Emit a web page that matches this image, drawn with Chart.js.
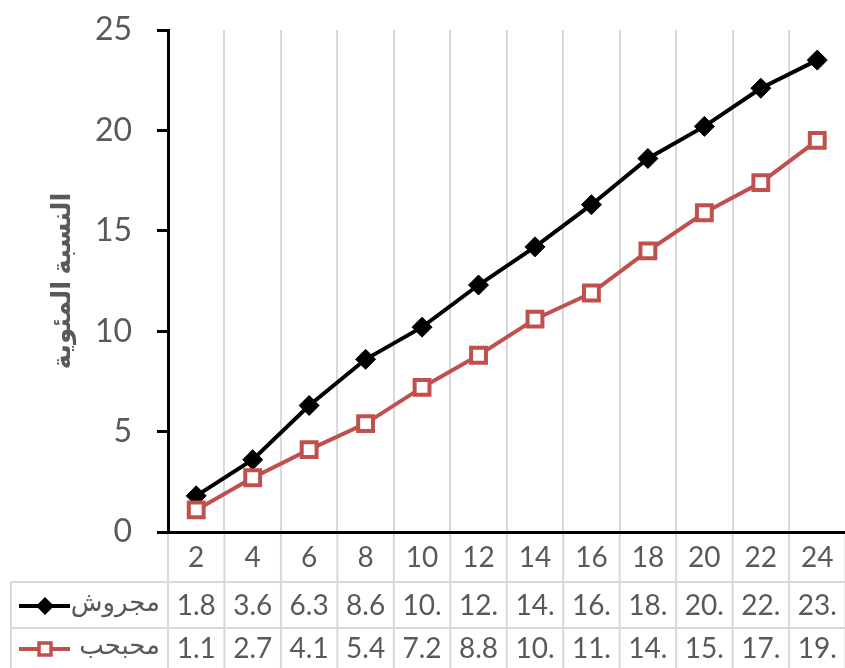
<!DOCTYPE html>
<html>
<head>
<meta charset="utf-8">
<script src="https://cdn.jsdelivr.net/npm/chart.js@4.4.1/dist/chart.umd.min.js"></script>
<style>
  body { margin: 0; overflow: hidden; background: #fff; }
  canvas { display: block; }
</style>
</head>
<body>
<canvas id="chart" width="860" height="668" style="width:860px;height:668px"></canvas>
<script>
// categories and the two series
var categories = ['2', '4', '6', '8', '10', '12', '14', '16', '18', '20', '22', '24'];
var crushed = [1.8, 3.6, 6.3, 8.6, 10.2, 12.3, 14.2, 16.3, 18.6, 20.2, 22.1, 23.5];
var granular = [1.1, 2.7, 4.1, 5.4, 7.2, 8.8, 10.6, 11.9, 14.0, 15.9, 17.4, 19.5];
var seriesNames = ['مجروش', 'محبحب'];
var yTicks = [0, 5, 10, 15, 20, 25];

var textGray = '#595959';
var gridGray = '#d9d9d9';
var red = '#C0504D';
var fontFam = "Lato, 'DejaVu Sans', sans-serif";

// draws the data table under the x axis (Excel style)
const tablePlugin = {
    id: 'dataTable',
    afterDraw(chart) {
        const ctx = chart.ctx;
        const x = chart.scales.x;
        const area = chart.chartArea;
        const colW = x.getPixelForValue(1) - x.getPixelForValue(0);
        const row1 = 582, row2 = 628, bottom = 668;
        ctx.save();
        ctx.strokeStyle = gridGray;
        ctx.lineWidth = 2;
        ctx.beginPath();
        for (let i = 0; i <= categories.length; i++) {
            const px = x.getPixelForValue(i) - colW / 2;
            ctx.moveTo(px, area.bottom + 2);
            ctx.lineTo(px, bottom);
        }
        ctx.moveTo(11, row1); ctx.lineTo(area.right, row1);
        ctx.moveTo(11, row2); ctx.lineTo(area.right, row2);
        ctx.moveTo(11, row1); ctx.lineTo(11, bottom);
        ctx.stroke();

        // values, truncated like the narrow Excel cells
        ctx.fillStyle = textGray;
        ctx.font = '28px ' + fontFam;
        ctx.textAlign = 'center';
        ctx.textBaseline = 'middle';
        const rows = [crushed, granular];
        const rowY = [606, 649];
        rows.forEach(function (vals, r) {
            vals.forEach(function (v, i) {
                ctx.fillText(v.toFixed(1).slice(0, 3), x.getPixelForValue(i), rowY[r]);
            });
        });

        // row labels with legend keys
        ctx.font = '26px ' + fontFam;
        ctx.textAlign = 'right';
        ctx.fillText(seriesNames[0], 160, rowY[0] - 3);
        ctx.fillText(seriesNames[1], 160, rowY[1] - 3);

        ctx.strokeStyle = '#000';
        ctx.lineWidth = 4;
        ctx.beginPath();
        ctx.moveTo(19, rowY[0]); ctx.lineTo(70, rowY[0]);
        ctx.stroke();
        ctx.fillStyle = '#000';
        ctx.beginPath();
        ctx.moveTo(45, rowY[0] - 9); ctx.lineTo(54, rowY[0]);
        ctx.lineTo(45, rowY[0] + 9); ctx.lineTo(36, rowY[0]);
        ctx.closePath();
        ctx.fill();

        ctx.strokeStyle = red;
        ctx.lineWidth = 4;
        ctx.beginPath();
        ctx.moveTo(19, rowY[1]); ctx.lineTo(38, rowY[1]);
        ctx.moveTo(52, rowY[1]); ctx.lineTo(70, rowY[1]);
        ctx.stroke();
        ctx.fillStyle = '#fff';
        ctx.lineWidth = 3.5;
        ctx.fillRect(39, rowY[1] - 6, 12, 12);
        ctx.strokeRect(39, rowY[1] - 6, 12, 12);
        ctx.restore();
    }
};

const ctx = document.getElementById('chart').getContext('2d');
const lineChart = new Chart(ctx, {
    type: 'line',
    data: {
        labels: categories,
        datasets: [{
            label: seriesNames[0],
            data: crushed,
            borderColor: '#000',
            backgroundColor: '#000',
            borderWidth: 4,
            pointStyle: 'rectRot',
            pointRadius: 10,
            pointBorderWidth: 1,
            pointBackgroundColor: '#000',
            order: 2
        }, {
            label: seriesNames[1],
            data: granular,
            borderColor: red,
            borderWidth: 4,
            pointStyle: 'rect',
            pointRadius: 10.5,
            pointBorderWidth: 4,
            pointBackgroundColor: '#fff',
            pointBorderColor: red,
            order: 1
        }]
    },
    options: {
        responsive: false,
        animation: false,
        layout: { padding: { top: 30, right: 9, left: 0, bottom: 0 } },
        plugins: {
            legend: { display: false },
            tooltip: { enabled: false }
        },
        scales: {
            x: {
                offset: true,
                grid: { offset: true, color: gridGray, lineWidth: 2, drawTicks: false },
                border: { color: '#000', width: 3 },
                ticks: { color: textGray, font: { family: fontFam, size: 28 }, padding: 9 },
                afterFit: function (scale) { scale.height = 136; }
            },
            y: {
                min: 0,
                max: 25,
                afterBuildTicks: function (scale) {
                    scale.ticks = yTicks.map(function (v) { return { value: v }; });
                },
                grid: { drawOnChartArea: false, color: '#000', lineWidth: 3, tickLength: 11 },
                border: { color: '#000', width: 3 },
                ticks: { color: textGray, font: { family: fontFam, size: 32 }, padding: 25 },
                title: {
                    display: true,
                    text: 'النسبة المئوية',
                    color: textGray,
                    font: { family: fontFam, size: 26, weight: 'bold' },
                    padding: { top: 46 }
                },
                afterFit: function (scale) {
                    scale.width = 168;
                    scale.paddingTop = 0;
                    scale.paddingBottom = 0;
                }
            }
        }
    },
    plugins: [tablePlugin]
});
</script>
</body>
</html>
